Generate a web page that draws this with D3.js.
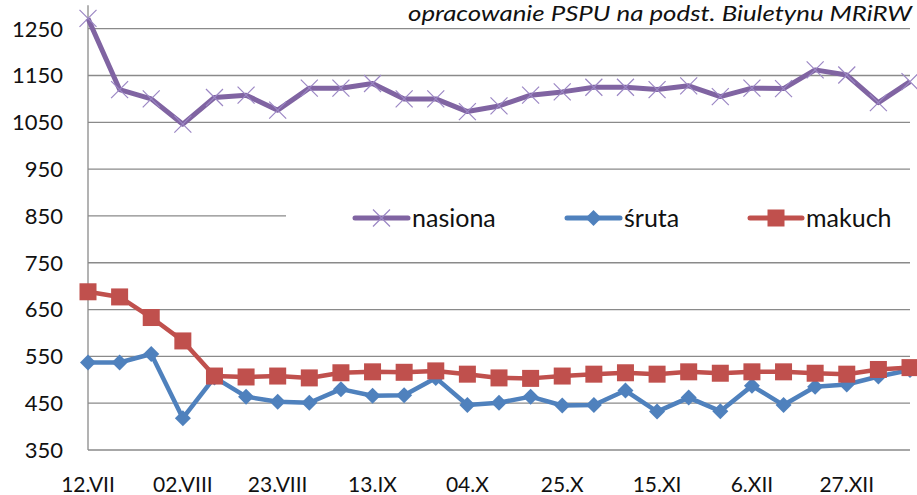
<!DOCTYPE html>
<html><head><meta charset="utf-8">
<script src="https://cdn.jsdelivr.net/npm/d3@7"></script>
<style>
body{margin:0;background:#fff;}
svg{display:block;font-family:Lato, "Open Sans", sans-serif;}
</style></head>
<body>
<svg id="chart" width="917" height="495"></svg>
<script>
const categories = ["12.VII","19.VII","26.VII","02.VIII","09.VIII","16.VIII","23.VIII","30.VIII","06.IX","13.IX","20.IX","27.IX","04.X","11.X","18.X","25.X","01.XI","08.XI","15.XI","22.XI","29.XI","6.XII","13.XII","20.XII","27.XII","03.I","10.I"];
const shownLabels = ["12.VII","02.VIII","23.VIII","13.IX","04.X","25.X","15.XI","6.XII","27.XII"];
const nasiona = [1272,1120,1100,1046,1103,1108,1076,1123,1123,1133,1100,1100,1073,1085,1108,1115,1125,1125,1120,1128,1105,1123,1122,1162,1151,1092,1137];
const sruta   = [537,537,555,418,505,464,453,451,480,466,467,504,446,451,464,445,446,477,432,462,433,487,446,485,490,507,521];
const makuch  = [688,677,633,583,508,506,508,504,515,517,516,519,512,504,503,508,512,515,512,517,514,517,517,514,512,522,526];
const yTicks = [350,450,550,650,750,850,950,1050,1150,1250];
const seriesNames = ["nasiona","śruta","makuch"];
const title = "opracowanie PSPU na podst. Biuletynu MRiRW";

const svg = d3.select("#chart");
const x = d3.scalePoint().domain(categories).range([88, 910]);
const y = d3.scaleLinear().domain([350, 1300]).range([450, 5.3]);

// gridlines
svg.append("g").selectAll("line").data(yTicks).join("line")
  .attr("x1", 88).attr("x2", 910)
  .attr("y1", d => y(d)).attr("y2", d => y(d))
  .attr("stroke", "#8a8a8a").attr("stroke-width", 1.3);

// y axis line
svg.append("line").attr("x1", 88).attr("x2", 88).attr("y1", y(1300)).attr("y2", y(350))
  .attr("stroke", "#8a8a8a").attr("stroke-width", 1.3);

// y labels
svg.append("g").selectAll("text").data(yTicks).join("text")
  .attr("x", 63).attr("y", d => y(d)).attr("dy", "0.36em")
  .attr("text-anchor", "end").attr("font-size", 22).attr("fill", "#111")
  .text(d => d);

// x labels
svg.append("g").selectAll("text").data(shownLabels).join("text")
  .attr("x", d => x(d)).attr("y", 492)
  .attr("text-anchor", "middle").attr("font-size", 21).attr("fill", "#111")
  .text(d => d);

// title
svg.append("text").attr("x", 408).attr("y", 21)
  .attr("textLength", 504).attr("lengthAdjust", "spacingAndGlyphs")
  .attr("font-size", 21).attr("font-style", "italic").attr("fill", "#111").text(title);

const line = d3.line().x((d, i) => x(categories[i])).y(d => y(d));

// legend background (covers part of gridline)
svg.append("rect").attr("x", 286).attr("y", 196).attr("width", 630).attr("height", 44).attr("fill", "#fff");

const colors = {nasiona: "#8064a2", sruta: "#4f81bd", makuch: "#c0504d"};

function xMarker(g, cx, cy, s) {
  g.append("path").attr("d", `M${cx-s},${cy-s}L${cx+s},${cy+s}M${cx-s},${cy+s}L${cx+s},${cy-s}`)
    .attr("stroke", "#9b86c4").attr("stroke-width", 1.2).attr("fill", "none");
}
function diamond(g, cx, cy, s, c) {
  g.append("path").attr("d", `M${cx},${cy-s}L${cx+s},${cy}L${cx},${cy+s}L${cx-s},${cy}Z`).attr("fill", c);
}
function square(g, cx, cy, s, c) {
  g.append("rect").attr("x", cx-s).attr("y", cy-s).attr("width", 2*s).attr("height", 2*s).attr("fill", c);
}

// nasiona
const gN = svg.append("g");
gN.append("path").datum(nasiona).attr("d", line).attr("fill", "none")
  .attr("stroke", colors.nasiona).attr("stroke-width", 5).attr("stroke-linejoin", "round");
nasiona.forEach((v, i) => xMarker(gN, x(categories[i]), y(v), 8.5));

// sruta
const gS = svg.append("g");
gS.append("path").datum(sruta).attr("d", line).attr("fill", "none")
  .attr("stroke", colors.sruta).attr("stroke-width", 4.5).attr("stroke-linejoin", "round");
sruta.forEach((v, i) => diamond(gS, x(categories[i]), y(v), 8, colors.sruta));

// makuch
const gM = svg.append("g");
gM.append("path").datum(makuch).attr("d", line).attr("fill", "none")
  .attr("stroke", colors.makuch).attr("stroke-width", 4.5).attr("stroke-linejoin", "round");
makuch.forEach((v, i) => square(gM, x(categories[i]), y(v), 8.5, colors.makuch));

// legend
const legend = svg.append("g");
const legItems = [
  {name: seriesNames[0], x1: 355, x2: 408, c: colors.nasiona, m: "x"},
  {name: seriesNames[1], x1: 567, x2: 620, c: colors.sruta, m: "d"},
  {name: seriesNames[2], x1: 750, x2: 802, c: colors.makuch, m: "s"}
];
const ly = 218;
legItems.forEach(it => {
  legend.append("line").attr("x1", it.x1).attr("x2", it.x2).attr("y1", ly).attr("y2", ly)
    .attr("stroke", it.c).attr("stroke-width", 5).attr("stroke-linecap", "round");
  const cx = (it.x1 + it.x2) / 2;
  if (it.m === "x") xMarker(legend, cx, ly, 8.5);
  if (it.m === "d") diamond(legend, cx, ly, 8, it.c);
  if (it.m === "s") square(legend, cx, ly, 8.5, it.c);
  legend.append("text").attr("x", it.x2 + 4).attr("y", ly).attr("dy", "0.35em")
    .attr("font-size", 25).attr("fill", "#111").text(it.name);
});
</script>
</body></html>
